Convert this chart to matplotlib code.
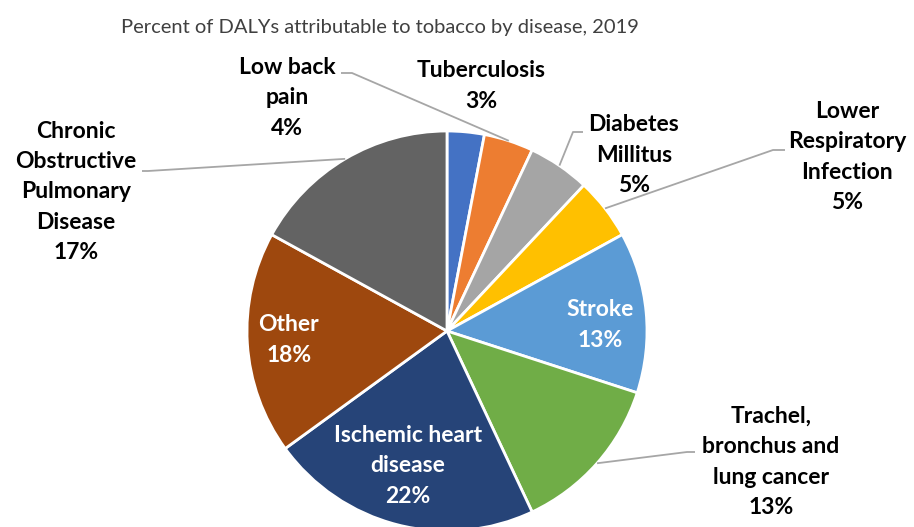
import numpy as np
import matplotlib.pyplot as plt

# data
labels = ["Tuberculosis", "Low back\npain", "Diabetes\nMillitus",
          "Lower\nRespiratory\nInfection", "Stroke",
          "Trachel,\nbronchus and\nlung cancer", "Ischemic heart\ndisease",
          "Other", "Chronic\nObstructive\nPulmonary\nDisease"]
values = [3, 4, 5, 5, 13, 13, 22, 18, 17]
colors = ["#4472C4", "#ED7D31", "#A5A5A5", "#FFC000", "#5B9BD5",
          "#70AD47", "#264478", "#9E480E", "#636363"]
title = "Percent of DALYs attributable to tobacco by disease, 2019"

W, H = 914, 527
CX, CY, R = 447, 331, 200  # pie centre / radius in pixels


def px(x, y):
    # pixel position -> data coords (pie radius = 1)
    return (x - CX) / R, (CY - y) / R


fig = plt.figure(figsize=(W / 100, H / 100), dpi=100)
ax = fig.add_axes([0, 0, 1, 1])

wedges, _ = ax.pie(values, colors=colors, startangle=90, counterclock=False,
                   radius=1, wedgeprops=dict(edgecolor="white", linewidth=2))
ax.set_xlim(-CX / R, (W - CX) / R)
ax.set_ylim(-(H - CY) / R, CY / R)
ax.set_aspect("equal")
ax.axis("off")

# label centres (pixels), text colour, leader line elbow (None = no line)
label_pos = [(481, 86), (287, 98), (634, 155), (847, 157), (600, 325),
             (771, 462), (408, 466), (289, 340), (76, 192)]
text_cols = ["black", "black", "black", "black", "white",
             "black", "white", "white", "black"]
elbows = [None, [(341, 73), (352, 73)], [(583, 132), (573, 132)],
          [(785, 150), (773, 150)], None, [(695, 452), (687, 452)],
          None, None, [(142, 171), (148, 171)]]

font = dict(family=["Lato", "DejaVu Sans"], fontweight="bold", fontsize=16.5)
for w, lab, v, pos, col, elb in zip(wedges, labels, values, label_pos,
                                    text_cols, elbows):
    x, y = px(*pos)
    ax.text(x, y, f"{lab}\n{v}%", ha="center", va="center", color=col,
            linespacing=1.55, **font)
    if elb is not None:
        mid = np.deg2rad((w.theta1 + w.theta2) / 2)
        pts = [px(*p) for p in elb] + [(np.cos(mid), np.sin(mid))]
        ax.plot([p[0] for p in pts], [p[1] for p in pts], color="#A6A6A6",
                lw=1.3, solid_capstyle="butt")

fig.text(380 / W, 1 - 27 / H, title, ha="center", va="center",
         fontsize=14.5, color="#404040", family=["Lato", "DejaVu Sans"])

fig.savefig("out.png", dpi=100, facecolor="white")
